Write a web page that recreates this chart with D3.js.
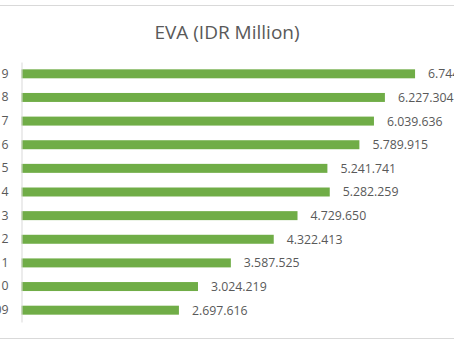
<!DOCTYPE html>
<html>
<head>
<meta charset="utf-8">
<script src="https://cdn.jsdelivr.net/npm/d3@7"></script>
<style>
  html, body { margin: 0; padding: 0; background: #fff; overflow: hidden; }
</style>
</head>
<body>
<div id="viz"></div>
<script>
// Years, top bar first
const years = ["2019", "2018", "2017", "2016", "2015", "2014", "2013", "2012", "2011", "2010", "2009"]
// EVA in IDR million
const eva = [6744000, 6227304, 6039636, 5789915, 5241741, 5282259, 4729650, 4322413, 3587525, 3024219, 2697616]

document.addEventListener("DOMContentLoaded", () => {

    const width = 454
    const height = 341
    const font = "'Open Sans', 'Noto Sans', sans-serif"
    const grey = "#595959"

    // dots as thousands separator
    const locale = d3.formatLocale({ decimal: ",", thousands: ".", grouping: [3], currency: ["", ""] })
    const fmt = locale.format(",d")

    const svg = d3.select("#viz").append("svg")
        .attr("width", width)
        .attr("height", height)

    // chart frame edges
    svg.append("line")
        .attr("x1", 0).attr("x2", width)
        .attr("y1", 5.5).attr("y2", 5.5)
        .attr("stroke", "#d9d9d9")
    svg.append("line")
        .attr("x1", 0).attr("x2", width)
        .attr("y1", 338.5).attr("y2", 338.5)
        .attr("stroke", "#d9d9d9")

    svg.append("text")
        .text("EVA (IDR Million)")
        .attr("x", 227)
        .attr("y", 39)
        .attr("text-anchor", "middle")
        .attr("font-family", font)
        .attr("font-size", 19)
        .attr("fill", grey)

    const rows = years.map((y, i) => ({ year: y, value: eva[i] }))

    const x = d3.scaleLinear()
        .domain([0, 7000000])
        .range([21.5, 430])

    const y = d3.scaleBand()
        .domain(years)
        .range([62, 322])
        .paddingInner(0.62)
        .paddingOuter(0.31)

    svg.selectAll(".bar")
        .data(rows)
        .join("rect")
        .attr("class", "bar")
        .attr("x", x(0))
        .attr("y", d => y(d.year))
        .attr("width", d => x(d.value) - x(0))
        .attr("height", y.bandwidth())
        .attr("fill", "#70ad47")

    // category axis
    const yAxis = svg.append("g")
        .attr("transform", `translate(${x(0)},0)`)
        .call(d3.axisLeft(y).tickSize(0).tickPadding(13))
    yAxis.select(".domain").attr("stroke", "#d9d9d9")
    yAxis.selectAll("text")
        .attr("font-family", font)
        .attr("font-size", 12.3)
        .attr("fill", grey)

    svg.selectAll(".value")
        .data(rows)
        .join("text")
        .attr("class", "value")
        .text(d => fmt(d.value))
        .attr("x", d => x(d.value) + 13)
        .attr("y", d => y(d.year) + y.bandwidth() / 2)
        .attr("dy", "0.36em")
        .attr("font-family", font)
        .attr("font-size", 12.3)
        .attr("fill", grey)

})
</script>
</body>
</html>
